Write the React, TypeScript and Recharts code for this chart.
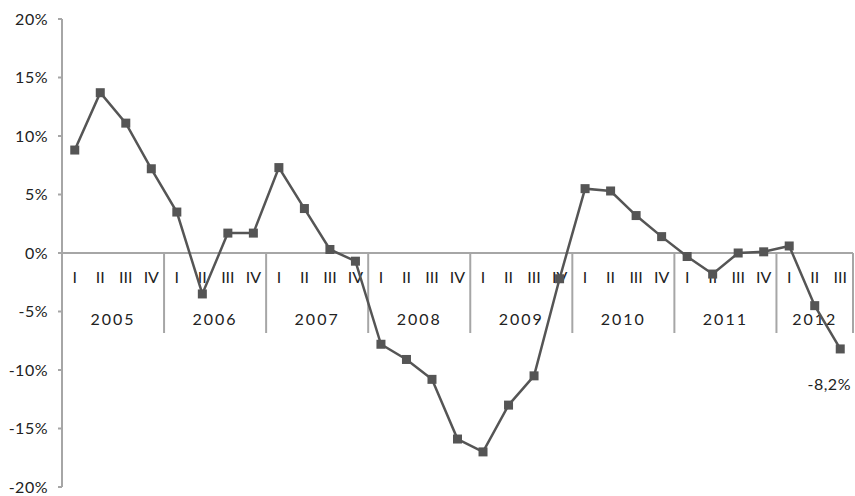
import React from "react";
import { LineChart, Line, XAxis, YAxis, ReferenceLine } from "recharts";

// Quarterly growth, 2005 Q1 .. 2012 Q3
const years = ["2005", "2006", "2007", "2008", "2009", "2010", "2011", "2012"];
const quarters = ["I", "II", "III", "IV"];
const growth = [
  8.8, 13.7, 11.1, 7.2,
  3.5, -3.5, 1.7, 1.7,
  7.3, 3.8, 0.3, -0.7,
  -7.8, -9.1, -10.8, -15.9,
  -17.0, -13.0, -10.5, -2.2,
  5.5, 5.3, 3.2, 1.4,
  -0.3, -1.8, 0.0, 0.1,
  0.6, -4.5, -8.2
];
const yTicks = [-20, -15, -10, -5, 0, 5, 10, 15, 20];
const lastLabel = "-8,2%";

const data = growth.map((v, i) => ({
  key: `${years[Math.floor(i / 4)]} ${quarters[i % 4]}`,
  value: v
}));

const LINE = "#555555";
const AXIS = "#a6a6a6";
const TEXT = "#222222";
const FONT = "Lato, 'Noto Sans', sans-serif";

// square marker
const SquareDot = (props: any) => {
  const { cx, cy, index } = props;
  if (cx == null || cy == null) return null;
  return <rect key={`d${index}`} x={cx - 4.5} y={cy - 4.5} width={9} height={9} fill={LINE} />;
};

// quarter / year labels hung under the zero line
const CategoryLabels = (props: any) => {
  const vb = props.viewBox;
  if (!vb) return null;
  const n = growth.length;
  const bw = vb.width / n;
  const y0 = vb.y;
  const seps: number[] = [];
  for (let i = 4; i < n; i += 4) seps.push(i);
  seps.push(n);
  return (
    <g fontFamily={FONT}>
      {seps.map((i) => (
        <line key={`s${i}`} x1={vb.x + i * bw} x2={vb.x + i * bw} y1={y0} y2={y0 + 80} stroke={AXIS} strokeWidth={2} />
      ))}
      {growth.map((_, i) => (
        <text key={`q${i}`} x={vb.x + (i + 0.5) * bw} y={y0 + 30} textAnchor="middle" fontSize={16} fontFamily={FONT} fill={TEXT}>
          {quarters[i % 4]}
        </text>
      ))}
      {years.map((yr, k) => {
        const start = k * 4;
        const end = Math.min(n, start + 4);
        return (
          <text key={`y${yr}`} x={vb.x + ((start + end) / 2) * bw} y={y0 + 72} textAnchor="middle" fontSize={16} fontFamily={FONT} fill={TEXT} letterSpacing={2}>
            {yr}
          </text>
        );
      })}
    </g>
  );
};

const EndLabel = (props: any) => {
  const { x, y, index } = props;
  if (index !== growth.length - 1) return null;
  return (
    <text x={x - 11} y={y + 41} textAnchor="middle" fontSize={16} fontFamily={FONT} fill={TEXT} letterSpacing={0.5}>
      {lastLabel}
    </text>
  );
};

export default function App() {
  return (
    <div
      style={{
        position: "absolute",
        left: 0,
        top: 0,
        width: 855,
        height: 496,
        background: "#fff",
        fontFamily: FONT
      }}
    >
      <LineChart width={855} height={496} data={data} margin={{ top: 19, right: 2, bottom: 9, left: 0 }}>
        <XAxis dataKey="key" scale="band" hide />
        <YAxis
          type="number"
          domain={[-20, 20]}
          ticks={yTicks}
          tickFormatter={(v: number) => `${v}%`}
          width={62}
          axisLine={{ stroke: AXIS, strokeWidth: 2 }}
          tickLine={{ stroke: AXIS, strokeWidth: 2 }}
          tickSize={4}
          tickMargin={10}
          tick={{ fill: TEXT, fontSize: 16, fontFamily: FONT, letterSpacing: 0.5 }}
          interval={0}
        />
        <ReferenceLine y={0} stroke={AXIS} strokeWidth={2} label={<CategoryLabels />} />
        <Line
          type="linear"
          dataKey="value"
          stroke={LINE}
          strokeWidth={2.5}
          dot={<SquareDot />}
          activeDot={false}
          label={<EndLabel />}
          isAnimationActive={false}
        />
      </LineChart>
    </div>
  );
}
